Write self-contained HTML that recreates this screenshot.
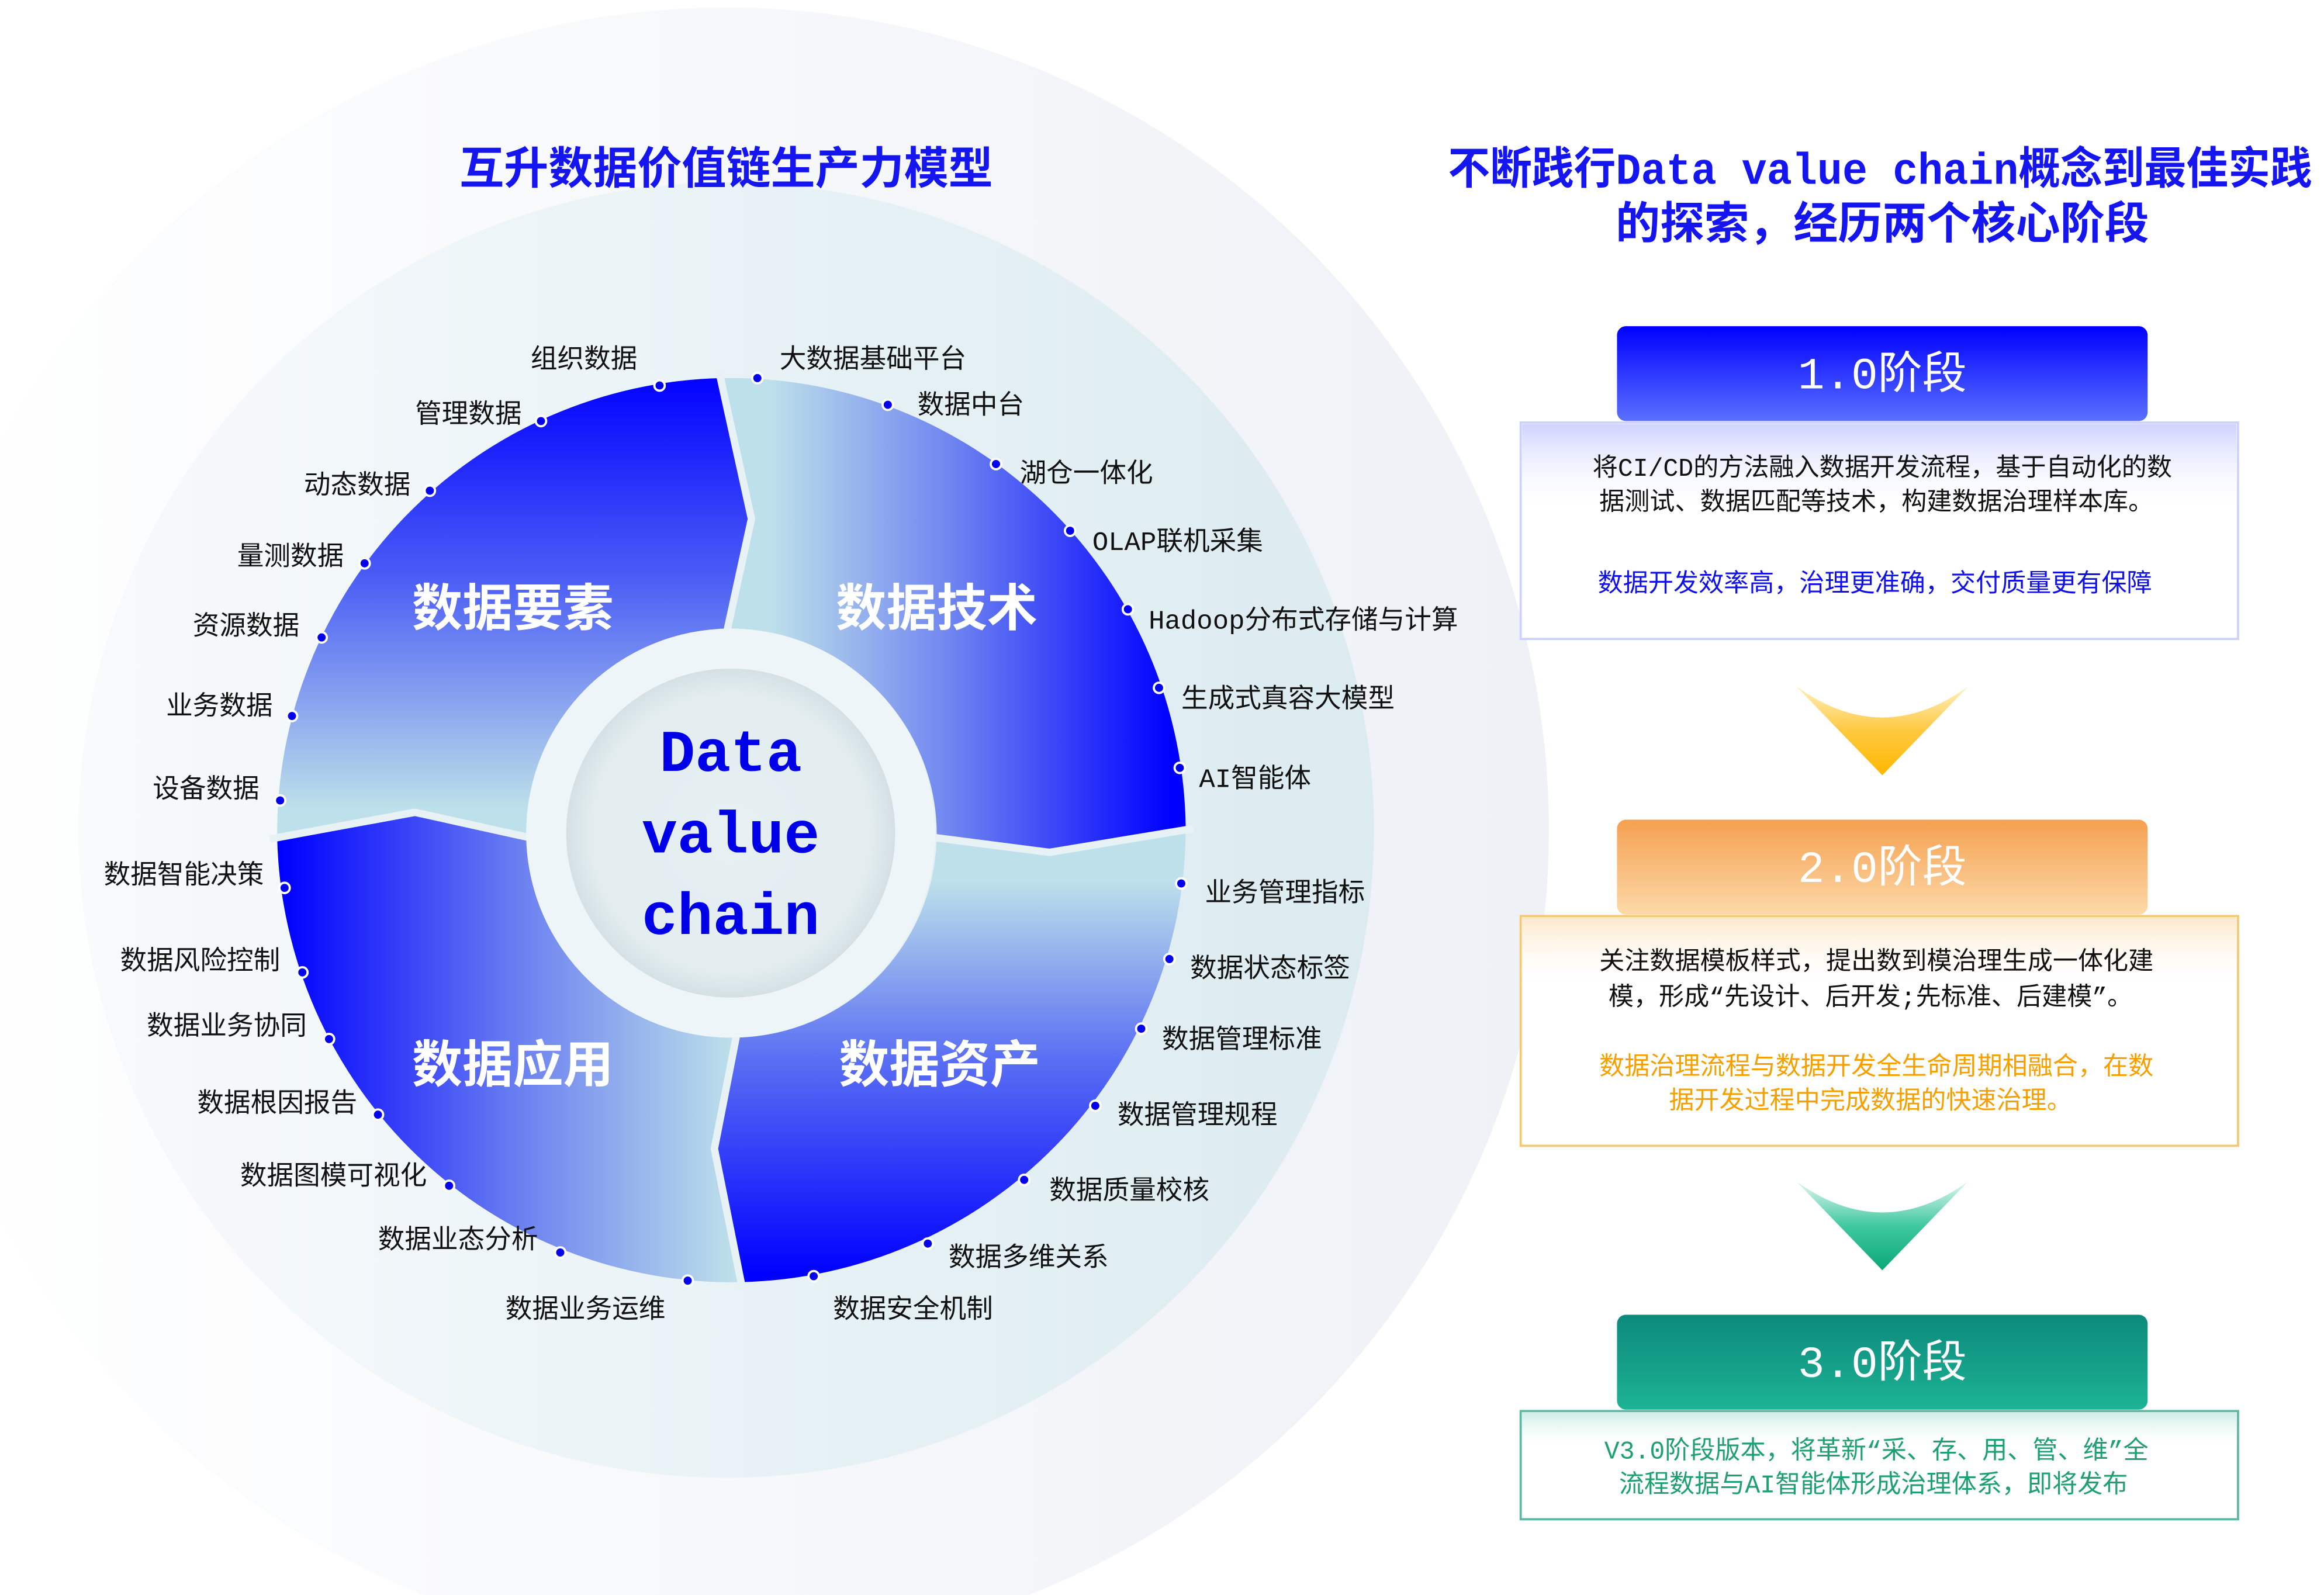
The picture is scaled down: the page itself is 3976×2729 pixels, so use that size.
<!DOCTYPE html>
<html><head><meta charset="utf-8"><style>
html,body{margin:0;padding:0;background:#fff;}
svg{display:block;}
text{font-family:"Liberation Mono","Noto Sans CJK SC",monospace;}
</style></head><body>
<svg width="3976" height="2729" viewBox="0 0 1568 1076" xmlns="http://www.w3.org/2000/svg">
<defs>
<linearGradient id="bg1" x1="0" y1="0" x2="1" y2="0"><stop offset="0" stop-color="#ffffff"/><stop offset="1" stop-color="#eef1f6"/></linearGradient>
<linearGradient id="bg2" x1="0" y1="0" x2="1" y2="0"><stop offset="0" stop-color="#f8fafc"/><stop offset="0.6" stop-color="#e6f1f5"/><stop offset="1" stop-color="#dcebf0"/></linearGradient>
<linearGradient id="tl" gradientUnits="userSpaceOnUse" x1="0" y1="260" x2="0" y2="545"><stop offset="0" stop-color="#0505ff"/><stop offset="0.45" stop-color="#4a5cf5"/><stop offset="1" stop-color="#bde0ea"/></linearGradient>
<linearGradient id="tr" gradientUnits="userSpaceOnUse" x1="520" y1="0" x2="790" y2="0"><stop offset="0" stop-color="#bde0ea"/><stop offset="0.45" stop-color="#6f85f0"/><stop offset="1" stop-color="#0000ff"/></linearGradient>
<linearGradient id="br" gradientUnits="userSpaceOnUse" x1="0" y1="595" x2="0" y2="860"><stop offset="0" stop-color="#bde0ea"/><stop offset="0.45" stop-color="#5a6ff3"/><stop offset="1" stop-color="#0000ff"/></linearGradient>
<linearGradient id="bl" gradientUnits="userSpaceOnUse" x1="190" y1="0" x2="495" y2="0"><stop offset="0" stop-color="#0000ff"/><stop offset="0.55" stop-color="#6f85f0"/><stop offset="1" stop-color="#bde0ea"/></linearGradient>
<radialGradient id="core" cx="0.5" cy="0.5" r="0.5"><stop offset="0" stop-color="#e6f0f3"/><stop offset="0.85" stop-color="#e3edf0"/><stop offset="1" stop-color="#d4e0e4"/></radialGradient>
<linearGradient id="h1" x1="0" y1="0" x2="0" y2="1"><stop offset="0" stop-color="#0000ff"/><stop offset="1" stop-color="#5a70ff"/></linearGradient>
<linearGradient id="h2" x1="0" y1="0" x2="0" y2="1"><stop offset="0" stop-color="#f5a050"/><stop offset="1" stop-color="#fcd9a8"/></linearGradient>
<linearGradient id="h3" x1="0" y1="0" x2="0" y2="1"><stop offset="0" stop-color="#0c8a7c"/><stop offset="1" stop-color="#1db394"/></linearGradient>
<linearGradient id="sh1" x1="0" y1="0" x2="0" y2="1"><stop offset="0" stop-color="#cfd3ff"/><stop offset="1" stop-color="#ffffff" stop-opacity="0"/></linearGradient>
<linearGradient id="sh2" x1="0" y1="0" x2="0" y2="1"><stop offset="0" stop-color="#fde8cc"/><stop offset="1" stop-color="#ffffff" stop-opacity="0"/></linearGradient>
<linearGradient id="sh3" x1="0" y1="0" x2="0" y2="1"><stop offset="0" stop-color="#cdeee4"/><stop offset="1" stop-color="#ffffff" stop-opacity="0"/></linearGradient>
<linearGradient id="a1" x1="0" y1="0" x2="0" y2="1"><stop offset="0" stop-color="#fff0c0"/><stop offset="0.5" stop-color="#ffc840"/><stop offset="1" stop-color="#ffb800"/></linearGradient>
<linearGradient id="a2" x1="0" y1="0" x2="0" y2="1"><stop offset="0" stop-color="#e0f7ee"/><stop offset="0.5" stop-color="#40c8a0"/><stop offset="1" stop-color="#0aa878"/></linearGradient>
</defs>

<circle cx="490" cy="560" r="555" fill="url(#bg1)"/>
<circle cx="490" cy="560" r="437" fill="url(#bg2)"/>

<path d="M187,565 A307,307 0 0 1 487,255 L507,350 L490,425 A138,138 0 0 0 355,565 L280,548 Z" fill="url(#tl)"/>
<path d="M487,255 A307,307 0 0 1 800,560 L708,575 L632,565 A138,138 0 0 0 490,425 L507,350 Z" fill="url(#tr)"/>
<path d="M800,560 A307,307 0 0 1 500,865 L482,775 L497,700 A138,138 0 0 0 632,565 L708,575 Z" fill="url(#br)"/>
<path d="M500,865 A307,307 0 0 1 187,565 L280,548 L355,565 A138,138 0 0 0 497,700 L482,775 Z" fill="url(#bl)"/>
<g fill="none" stroke="#e8f2f5" stroke-width="5" stroke-linejoin="round">
<polyline points="485,250 507,350 490,428"/>
<polyline points="182,566 280,548 357,565"/>
<polyline points="630,565 708,575 805,559"/>
<polyline points="497,698 482,775 501,870"/>
</g>
<circle cx="493" cy="562" r="138" fill="#eef5f8"/>
<circle cx="493" cy="562" r="111" fill="url(#core)"/>
<g style="font-family:'Liberation Mono',monospace" font-weight="bold" font-size="40" fill="#0000e8" text-anchor="middle">
<text x="493" y="520">Data</text>
<text x="493" y="575">value</text>
<text x="493" y="630">chain</text>
</g>

<g font-size="34" font-weight="bold" fill="#ffffff" text-anchor="middle">
<text x="346" y="422">数据要素</text>
<text x="632" y="422">数据技术</text>
<text x="346" y="730">数据应用</text>
<text x="634" y="730">数据资产</text>
</g>

<g fill="#0000ee" stroke="#ffffff" stroke-width="1.5">
<circle cx="445" cy="260" r="3.5"/><circle cx="365" cy="284" r="3.5"/><circle cx="290" cy="331" r="3.5"/><circle cx="246" cy="380" r="3.5"/><circle cx="217" cy="430" r="3.5"/><circle cx="197" cy="483" r="3.5"/><circle cx="189" cy="540" r="3.5"/><circle cx="192" cy="599" r="3.5"/><circle cx="204" cy="656" r="3.5"/><circle cx="222" cy="701" r="3.5"/><circle cx="255" cy="752" r="3.5"/><circle cx="303" cy="800" r="3.5"/><circle cx="378" cy="845" r="3.5"/><circle cx="464" cy="864" r="3.5"/>
<circle cx="511" cy="255" r="3.5"/><circle cx="599" cy="273" r="3.5"/><circle cx="672" cy="313" r="3.5"/><circle cx="722" cy="358" r="3.5"/><circle cx="761" cy="411" r="3.5"/><circle cx="782" cy="464" r="3.5"/><circle cx="796" cy="518" r="3.5"/><circle cx="797" cy="596" r="3.5"/><circle cx="789" cy="647" r="3.5"/><circle cx="770" cy="694" r="3.5"/><circle cx="739" cy="746" r="3.5"/><circle cx="691" cy="796" r="3.5"/><circle cx="626" cy="839" r="3.5"/><circle cx="549" cy="861" r="3.5"/>
</g>

<g font-size="18" fill="#111" text-anchor="end">
<text x="430" y="248">组织数据</text>
<text x="352" y="285">管理数据</text>
<text x="277" y="333">动态数据</text>
<text x="232" y="381">量测数据</text>
<text x="202" y="428">资源数据</text>
<text x="184" y="482">业务数据</text>
<text x="175" y="538">设备数据</text>
<text x="178" y="596">数据智能决策</text>
<text x="189" y="654">数据风险控制</text>
<text x="207" y="698">数据业务协同</text>
<text x="241" y="750">数据根因报告</text>
<text x="288" y="799">数据图模可视化</text>
<text x="363" y="842">数据业态分析</text>
<text x="449" y="889">数据业务运维</text>
</g>
<g font-size="18" fill="#111">
<text x="526" y="248">大数据基础平台</text>
<text x="619" y="279">数据中台</text>
<text x="688" y="325">湖仓一体化</text>
<text x="737" y="371">OLAP联机采集</text>
<text x="775" y="424">Hadoop分布式存储与计算</text>
<text x="797" y="477">生成式真容大模型</text>
<text x="809" y="531">AI智能体</text>
<text x="813" y="608">业务管理指标</text>
<text x="803" y="659">数据状态标签</text>
<text x="784" y="707">数据管理标准</text>
<text x="754" y="758">数据管理规程</text>
<text x="708" y="809">数据质量校核</text>
<text x="640" y="854">数据多维关系</text>
<text x="562" y="889">数据安全机制</text>
</g>

<g font-size="30" font-weight="bold" fill="#1515f0">
<text x="490" y="124" text-anchor="middle">互升数据价值链生产力模型</text>
<text x="977" y="124" textLength="583" lengthAdjust="spacingAndGlyphs">不断践行Data value chain概念到最佳实践</text>
<text x="1270" y="161" text-anchor="middle">的探索，经历两个核心阶段</text>
</g>

<rect x="1026" y="285" width="484" height="146" fill="#fff" stroke="#cdd1ff" stroke-width="1.5"/>
<rect x="1027" y="286" width="482" height="60" fill="url(#sh1)"/>
<rect x="1091" y="220" width="358" height="64" rx="6" fill="url(#h1)"/>
<text x="1270" y="262" font-size="30" fill="#fff" text-anchor="middle">1.0阶段</text>
<g font-size="17" text-anchor="middle">
<text x="1270" y="321" fill="#111">将CI/CD的方法融入数据开发流程，基于自动化的数</text>
<text x="1266" y="344" fill="#111">据测试、数据匹配等技术，构建数据治理样本库。</text>
<text x="1265" y="399" fill="#1010e8">数据开发效率高，治理更准确，交付质量更有保障</text>
</g>
<path d="M1212,463 Q1270,505 1328,463 L1270,523 Z" fill="url(#a1)"/>

<rect x="1026" y="618" width="484" height="155" fill="#fff" stroke="#f7c870" stroke-width="1.5"/>
<rect x="1027" y="619" width="482" height="50" fill="url(#sh2)"/>
<rect x="1091" y="553" width="358" height="64" rx="6" fill="url(#h2)"/>
<text x="1270" y="595" font-size="30" fill="#fff" text-anchor="middle">2.0阶段</text>
<g font-size="17" text-anchor="middle">
<text x="1266" y="654" fill="#111">关注数据模板样式，提出数到模治理生成一体化建</text>
<text x="1262" y="678" fill="#111">模，形成“先设计、后开发;先标准、后建模”。</text>
<text x="1266" y="725" fill="#f5a000">数据治理流程与数据开发全生命周期相融合，在数</text>
<text x="1262" y="748" fill="#f5a000">据开发过程中完成数据的快速治理。</text>
</g>
<path d="M1212,797 Q1270,839 1328,797 L1270,857 Z" fill="url(#a2)"/>

<rect x="1026" y="952" width="484" height="73" fill="#fff" stroke="#5cbaa4" stroke-width="1.5"/>
<rect x="1027" y="953" width="482" height="25" fill="url(#sh3)"/>
<rect x="1091" y="887" width="358" height="64" rx="6" fill="url(#h3)"/>
<text x="1270" y="929" font-size="30" fill="#fff" text-anchor="middle">3.0阶段</text>
<g font-size="17" text-anchor="middle" fill="#1ea070">
<text x="1266" y="984">V3.0阶段版本，将革新“采、存、用、管、维”全</text>
<text x="1264" y="1007">流程数据与AI智能体形成治理体系，即将发布</text>
</g>
</svg>
</body></html>
